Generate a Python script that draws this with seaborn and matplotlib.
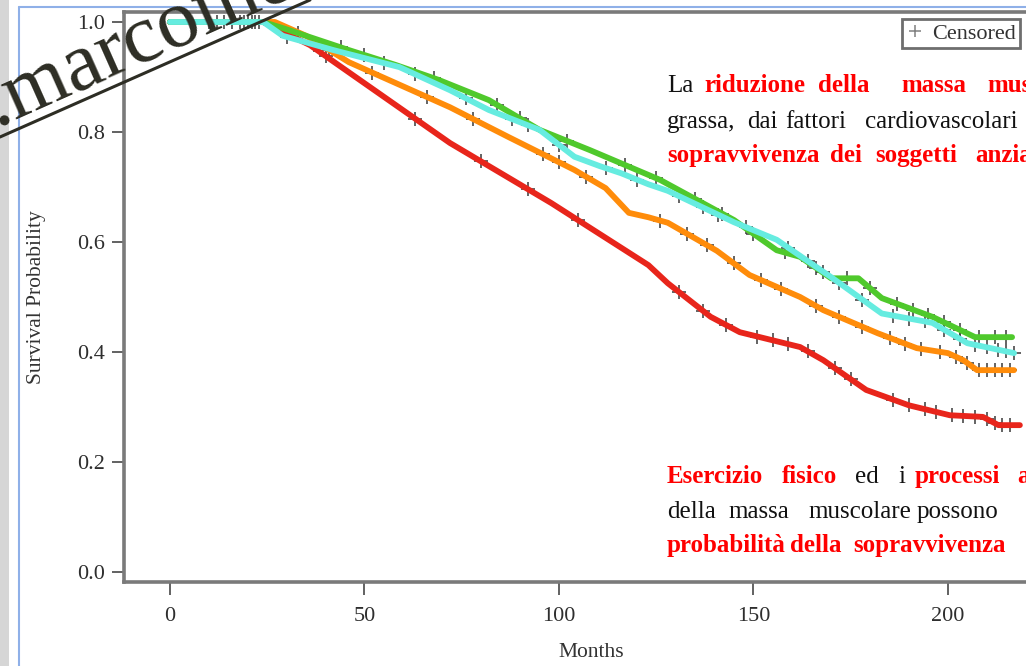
import numpy as np
import pandas as pd
import matplotlib
matplotlib.use("Agg")
import matplotlib.pyplot as plt
from matplotlib.lines import Line2D
from matplotlib.patches import Rectangle
import seaborn as sns

# ── Data ──────────────────────────────────────────────────────────────────────
groups = ["red", "orange", "green", "cyan"]
colors = {"red": "#e8251b", "orange": "#ff8c0a", "green": "#4fc92c", "cyan": "#66ece0"}

red_t    = [0, 24, 36, 72, 98, 123, 128, 139, 146.5, 162, 168, 179, 190, 200.5, 209, 213, 218.5]
red_s    = [1.0, 1.0, 0.958, 0.78, 0.671, 0.558, 0.525, 0.464, 0.436, 0.409, 0.385, 0.331, 0.303, 0.285, 0.282, 0.267, 0.267]
orange_t = [0, 27, 35, 46, 72, 87, 104, 112, 118, 123, 128, 140.6, 149, 162, 168, 182, 192, 200, 204, 207.5, 217]
orange_s = [1.0, 1.0, 0.975, 0.927, 0.845, 0.791, 0.731, 0.698, 0.653, 0.645, 0.635, 0.584, 0.54, 0.5, 0.476, 0.434, 0.407, 0.398, 0.385, 0.367, 0.367]
cyan_t   = [0, 24, 29, 42, 59, 72, 82, 95, 104, 110.5, 116, 123, 128, 145, 156, 170, 183, 196, 205, 217]
cyan_s   = [1.0, 1.0, 0.975, 0.949, 0.918, 0.876, 0.84, 0.804, 0.755, 0.738, 0.725, 0.705, 0.693, 0.636, 0.604, 0.536, 0.47, 0.453, 0.416, 0.398]
green_t  = [0, 24, 29, 46, 58, 69, 82, 95, 108, 126, 145, 156, 162, 170, 177, 183, 196, 207, 216.5]
green_s  = [1.0, 1.0, 0.989, 0.949, 0.922, 0.895, 0.858, 0.804, 0.767, 0.713, 0.64, 0.585, 0.573, 0.534, 0.534, 0.498, 0.464, 0.427, 0.427]

# censoring times per group
red_cens    = [14, 19, 22, 40, 63, 80, 92, 105, 131, 137, 143, 151, 155, 159, 164, 171, 175, 186,
               190, 194, 197, 201, 204, 207, 210, 212, 214, 216]
orange_cens = [16, 20, 23, 41, 52, 66, 78, 96, 100, 107, 126, 133, 138, 145, 152, 157, 166, 172,
               178, 185, 189, 193, 198, 202, 205, 208, 210, 212, 214, 216]
cyan_cens   = [12, 18, 30, 37, 55, 63, 76, 88, 92, 100, 112, 120, 131, 137, 141, 148, 159, 164,
               168, 172, 178, 186, 190, 194, 199, 203, 207, 210, 213, 215, 217]
green_cens  = [10, 21, 33, 44, 50, 68, 84, 90, 102, 117, 125, 135, 142, 150, 158, 166, 174, 180,
               187, 191, 195, 199, 203, 208, 212, 215]

xticks = [0, 50, 100, 150, 200]
yticks = [0.0, 0.2, 0.4, 0.6, 0.8, 1.0]

curves_raw = {"red": (red_t, red_s), "orange": (orange_t, orange_s),
              "green": (green_t, green_s), "cyan": (cyan_t, cyan_s)}
cens_raw = {"red": red_cens, "orange": orange_cens, "green": green_cens, "cyan": cyan_cens}

curves = pd.concat([pd.DataFrame({"months": t, "surv": s, "group": g})
                    for g, (t, s) in curves_raw.items()], ignore_index=True)
cens = pd.concat([pd.DataFrame({"months": c,
                                "surv": np.interp(c, *curves_raw[g]),
                                "group": g})
                  for g, c in cens_raw.items()], ignore_index=True)

# ── Figure ────────────────────────────────────────────────────────────────────
sns.set_theme(style="ticks")
plt.rcParams["font.family"] = ["Liberation Serif", "DejaVu Serif"]

W, H = 1026, 666
fx = lambda px: px / W
fy = lambda py: 1 - py / H

fig = plt.figure(figsize=(W / 100, H / 100), dpi=100)
fig.patch.set_facecolor("white")

# slide frame
fig.add_artist(Rectangle((0, 0), fx(9), 1, transform=fig.transFigure, color="#d6d6d6", lw=0))
fig.add_artist(Line2D([fx(18.5), fx(18.5)], [0, fy(7)], color="#8fb0e8", lw=1.5))
fig.add_artist(Line2D([fx(18.5), 1], [fy(7), fy(7)], color="#8fb0e8", lw=1.5))

ax = fig.add_axes([fx(124), fy(582), 933.6 / W, 570 / H])

sns.scatterplot(data=cens, x="months", y="surv", marker="+", color="#3c3c3c",
                s=90, linewidth=1.4, alpha=0.8, legend=False, ax=ax, zorder=1)
sns.lineplot(data=curves, x="months", y="surv", hue="group", hue_order=groups,
             palette=colors, estimator=None, sort=False, lw=4.2, legend=False, ax=ax)

ax.set_xlim(-11.8, 228.2)
ax.set_ylim(-0.0182, 1.0182)
ax.set_xticks(xticks)
ax.set_yticks(yticks)
ax.set_yticklabels([f"{v:.1f}" for v in yticks])
ax.tick_params(direction="out", length=9, width=1.3, color="#555555",
               labelsize=16, labelcolor="#2e2e2e")
ax.tick_params(axis="x", pad=9)
ax.tick_params(axis="y", pad=5)
for s in ax.spines.values():
    s.set_color("#7a7a7a")
    s.set_linewidth(2.6)
ax.set_xlabel("Months", fontsize=15.5, color="#333333", labelpad=12)
ax.set_ylabel("Survival Probability", fontsize=15.5, color="#333333", labelpad=22)

ax.legend(handles=[Line2D([], [], marker="+", ls="none", color="#808080",
                          markersize=9, mew=1.1)],
          labels=["Censored"], loc="upper right",
          bbox_to_anchor=(fx(1020), fy(19)), bbox_transform=fig.transFigure,
          frameon=True, fancybox=False, framealpha=1, edgecolor="#6e6e6e",
          fontsize=16, handlelength=0.8, handletextpad=0.35, borderpad=0.2,
          borderaxespad=0)
ax.get_legend().get_frame().set_linewidth(2)
for t in ax.get_legend().get_texts():
    t.set_color("#333333")

# ── Slide text (justified lines, so each word is placed) ──────────────────────
RED, BLK = "#ff0000", "#111111"
FS = 18

def word(px, py, s, bold=False, color=BLK):
    fig.text(fx(px), fy(py), s, fontsize=FS, color=color, ha="left", va="baseline",
             fontweight="bold" if bold else "normal")

word(667, 92, "La")
word(704, 92, "riduzione", True, RED)
word(818, 92, "della", True, RED)
word(901, 92, "massa", True, RED)
word(987, 92, "muscolare", True, RED)
word(667, 128, "grassa,")
word(747, 128, "dai")
word(785, 128, "fattori")
word(865, 128, "cardiovascolari")
word(667, 162, "sopravvivenza", True, RED)
word(830, 162, "dei", True, RED)
word(875, 162, "soggetti", True, RED)
word(975, 162, "anziani", True, RED)

word(667, 483, "Esercizio", True, RED)
word(782, 483, "fisico", True, RED)
word(855, 483, "ed")
word(898, 483, "i")
word(915, 483, "processi", True, RED)
word(1017, 483, "associati", True, RED)
word(667, 518, "della")
word(728, 518, "massa")
word(808, 518, "muscolare")
word(917, 518, "possono")
word(667, 552, "probabilità", True, RED)
word(790, 552, "della", True, RED)
word(853, 552, "sopravvivenza", True, RED)

# watermark
wm = "#2d2d24"
fig.text(fx(-4), fy(126), ".marcome", rotation=24, rotation_mode="anchor",
         ha="left", va="baseline", fontsize=60, color=wm, zorder=10)
fig.add_artist(Line2D([fx(0), fx(310)], [fy(137), fy(0)], color=wm, lw=2.2, zorder=10))

fig.savefig("out.png", dpi=100, facecolor="white")
